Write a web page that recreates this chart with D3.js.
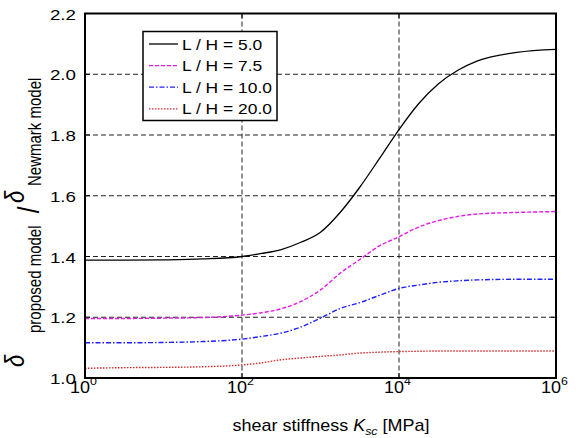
<!DOCTYPE html>
<html><head><meta charset="utf-8">
<script src="https://cdn.jsdelivr.net/npm/d3@7"></script>
<style>
html,body{margin:0;padding:0;background:#fff;}
svg{display:block;}
text{font-family:"Liberation Sans",Arial,Helvetica,sans-serif;fill:#000;}
</style></head>
<body>
<svg id="chart" width="576" height="438"></svg>
<script>
// ---- data (K in MPa, log-spaced sample points) ----
const kExp = [0, 0.5, 1, 1.5, 2, 2.25, 2.5, 2.75, 3, 3.25, 3.5, 3.75, 4, 4.25, 4.5, 4.75, 5, 5.5, 6];
const seriesNames = ["L / H = 5.0", "L / H = 7.5", "L / H = 10.0", "L / H = 20.0"];
const ratioLH5  = [1.388,1.388,1.389,1.392,1.400,1.410,1.423,1.447,1.480,1.545,1.628,1.722,1.818,1.903,1.968,2.013,2.044,2.072,2.082];
const ratioLH75 = [1.196,1.196,1.197,1.199,1.207,1.215,1.228,1.252,1.290,1.345,1.390,1.435,1.465,1.497,1.518,1.532,1.540,1.545,1.548];
const ratioLH10 = [1.116,1.116,1.117,1.120,1.128,1.137,1.148,1.168,1.197,1.229,1.248,1.272,1.295,1.306,1.315,1.320,1.323,1.325,1.325];
const ratioLH20 = [1.032,1.034,1.035,1.037,1.043,1.050,1.060,1.066,1.071,1.076,1.082,1.085,1.087,1.088,1.089,1.089,1.089,1.089,1.089];
const yTicks = [1.0, 1.2, 1.4, 1.6, 1.8, 2.0, 2.2];
const xTickExp = [0, 2, 4, 6];

const allSeries = [ratioLH5, ratioLH75, ratioLH10, ratioLH20];
const colors = ["#000000", "#e818e8", "#2020ff", "#d82828"];
const dashes = [null, "4,2", "5,2,1.5,2", "1.5,1.5"];

const svg = d3.select("#chart");
const M = {left: 85, right: 556, top: 13.5, bottom: 378};
const SX = 1.25; // horizontal text stretch of the reference

const x = d3.scaleLog().domain([1, 1e6]).range([M.left, M.right]);
const y = d3.scaleLinear().domain([1.0, 2.2]).range([M.bottom, M.top]);

// grid
const g = svg.append("g");
g.selectAll(".gy").data(yTicks.filter(t => t > 1.0 && t < 2.2)).enter().append("line")
  .attr("x1", M.left).attr("x2", M.right).attr("y1", d => y(d)).attr("y2", d => y(d))
  .attr("stroke", "#222").attr("stroke-width", 1).attr("stroke-dasharray", "5,3");
g.selectAll(".gx").data(xTickExp.filter(e => e > 0 && e < 6)).enter().append("line")
  .attr("y1", M.top).attr("y2", M.bottom).attr("x1", d => x(Math.pow(10, d))).attr("x2", d => x(Math.pow(10, d)))
  .attr("stroke", "#222").attr("stroke-width", 1).attr("stroke-dasharray", "5,3");

// inward ticks
yTicks.forEach(t => {
  g.append("line").attr("x1", M.left).attr("x2", M.left + 5).attr("y1", y(t)).attr("y2", y(t)).attr("stroke", "#000");
  g.append("line").attr("x1", M.right).attr("x2", M.right - 5).attr("y1", y(t)).attr("y2", y(t)).attr("stroke", "#000");
});
xTickExp.forEach(e => {
  const xx = x(Math.pow(10, e));
  g.append("line").attr("x1", xx).attr("x2", xx).attr("y1", M.bottom).attr("y2", M.bottom - 5).attr("stroke", "#000");
  g.append("line").attr("x1", xx).attr("x2", xx).attr("y1", M.top).attr("y2", M.top + 5).attr("stroke", "#000");
});

// lines
const line = d3.line().x((d, i) => x(Math.pow(10, kExp[i]))).y(d => y(d)).curve(d3.curveMonotoneX);
allSeries.forEach((s, i) => {
  svg.append("path").datum(s).attr("d", line).attr("fill", "none")
    .attr("stroke", colors[i]).attr("stroke-width", i === 0 ? 1.3 : 1.4)
    .attr("stroke-dasharray", dashes[i]);
});

// frame
svg.append("rect").attr("x", M.left).attr("y", M.top).attr("width", M.right - M.left).attr("height", M.bottom - M.top)
  .attr("fill", "none").attr("stroke", "#000").attr("stroke-width", 2);

// y tick labels
yTicks.forEach(t => {
  svg.append("text").attr("transform", `translate(${M.left - 9},${y(t) + 6}) scale(${SX},1)`)
    .attr("text-anchor", "end").attr("font-size", 15).text(t.toFixed(1));
});
// x tick labels
xTickExp.forEach(e => {
  const xx = x(Math.pow(10, e));
  const tx = svg.append("text").attr("transform", `translate(${xx - 15},${393}) scale(${SX * 0.9},1)`)
    .attr("font-size", 16);
  tx.append("tspan").text("10");
  tx.append("tspan").attr("font-size", 11).attr("dy", -8).text(String(e));
});

// x axis label
const xl = svg.append("text").attr("transform", `translate(331,431) scale(${SX * 0.9},1)`)
  .attr("text-anchor", "middle").attr("font-size", 16);
xl.append("tspan").text("shear stiffness ");
xl.append("tspan").attr("font-style", "italic").text("K");
xl.append("tspan").attr("font-style", "italic").attr("font-size", 11).attr("dy", 4).text("sc");
xl.append("tspan").attr("dy", -4).text(" [MPa]");

// y axis label (rotated pieces)
function rot(bx, py, size, family, style, str, anchor) {
  svg.append("text").attr("transform", `translate(${bx},${py}) rotate(-90) scale(1,${SX})`)
    .attr("text-anchor", anchor || "start").attr("font-size", size)
    .attr("font-family", family || null).attr("font-style", style || null).text(str);
}
const serif = "Liberation Serif, Times New Roman, serif";
rot(24, 367, 22, serif, "italic", "δ");
rot(41, 333, 15, null, null, "proposed model");
rot(39, 210, 24, null, null, "/", "middle");
rot(24, 203, 22, serif, "italic", "δ");
rot(41, 186, 15, null, null, "Newmark model");

// legend
const L = {x: 143, y: 31.5, w: 134, h: 89};
svg.append("rect").attr("x", L.x).attr("y", L.y).attr("width", L.w).attr("height", L.h)
  .attr("fill", "#fff").attr("stroke", "#000").attr("stroke-width", 1.5);
seriesNames.forEach((n, i) => {
  const cy = 44 + i * 21.6;
  svg.append("line").attr("x1", 149).attr("x2", 178).attr("y1", cy).attr("y2", cy)
    .attr("stroke", colors[i]).attr("stroke-width", 1.3).attr("stroke-dasharray", dashes[i]);
  svg.append("text").attr("transform", `translate(182,${cy + 5.5}) scale(${SX * 0.9},1)`)
    .attr("font-size", 15.5).text(n);
});
</script>
</body></html>
